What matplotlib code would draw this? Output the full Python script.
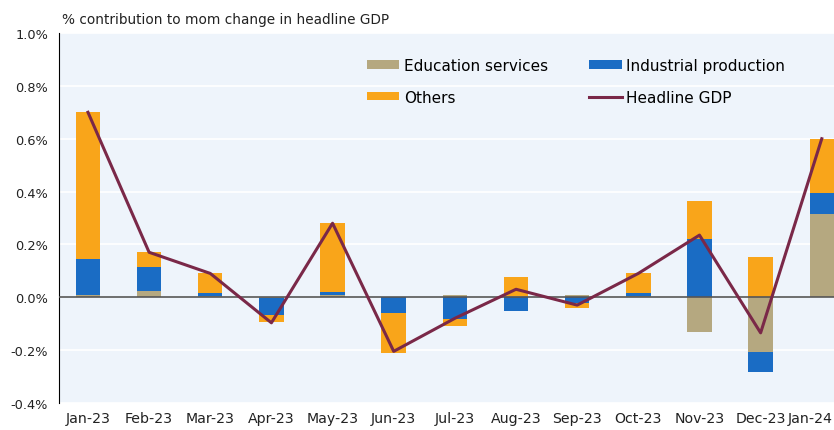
import numpy as np
import matplotlib.pyplot as plt
import matplotlib.transforms as mtransforms
from matplotlib.ticker import FuncFormatter

# data (% points)
months = ["Jan-23", "Feb-23", "Mar-23", "Apr-23", "May-23", "Jun-23", "Jul-23",
          "Aug-23", "Sep-23", "Oct-23", "Nov-23", "Dec-23", "Jan-24"]
education = [0.01, 0.025, 0.003, -0.003, 0.01, 0.0, 0.01, 0.003, 0.01, 0.005, -0.133, -0.208, 0.315]
industrial = [0.135, 0.088, 0.012, -0.064, 0.011, -0.06, -0.082, -0.052, -0.023, 0.01, 0.22, -0.077, 0.079]
others = [0.555, 0.057, 0.078, -0.028, 0.26, -0.15, -0.028, 0.072, -0.017, 0.075, 0.145, 0.152, 0.204]
headline = [0.70, 0.17, 0.09, -0.097, 0.28, -0.205, -0.08, 0.03, -0.03, 0.09, 0.235, -0.135, 0.60]

c_edu = "#B5A880"
c_ind = "#1A6CC4"
c_oth = "#F9A51A"
c_gdp = "#7A2848"

fig = plt.figure(figsize=(8.34, 4.31), dpi=100)
ax = fig.add_axes([0.071, 0.063, 0.929, 0.858])
ax.set_facecolor("#EEF4FB")

x = np.arange(len(months))
w = 0.4

# stack positives and negatives separately
pos_base = np.zeros(len(months))
neg_base = np.zeros(len(months))
for vals, col, lab in [(education, c_edu, "Education services"),
                       (industrial, c_ind, "Industrial production"),
                       (others, c_oth, "Others")]:
    v = np.array(vals)
    base = np.where(v >= 0, pos_base, neg_base)
    ax.bar(x, v, w, bottom=base, color=col, label=lab, zorder=3)
    pos_base += np.where(v >= 0, v, 0)
    neg_base += np.where(v < 0, v, 0)

ax.plot(x, headline, color=c_gdp, lw=2.2, label="Headline GDP", zorder=4)

ax.axhline(0, color="#555555", lw=1.2, zorder=3.5)
ax.set_ylim(-0.4, 1.0)
ax.set_yticks(np.arange(-0.4, 1.01, 0.2))
ax.yaxis.set_major_formatter(FuncFormatter(lambda v, p: f"{v:.1f}%"))
ax.grid(axis="y", color="white", lw=1.2, zorder=1)
ax.set_xlim(-0.47, 12.2)
ax.set_xticks(x)
ax.set_xticklabels(months)
ax.tick_params(length=0, colors="#222222")
ax.tick_params(axis="y", labelsize=9.3, pad=8)
ax.tick_params(axis="x", labelsize=10.2, pad=6)
for s in ["top", "right", "bottom"]:
    ax.spines[s].set_visible(False)
ax.spines["left"].set_color("black")

# keep the last month label inside the figure
last = ax.get_xticklabels()[-1]
last.set_transform(last.get_transform() +
                   mtransforms.ScaledTranslation(-12 / 100, 0, fig.dpi_scale_trans))

fig.text(0.074, 0.945, "% contribution to mom change in headline GDP",
         fontsize=9.8, color="#222222")

h, l = ax.get_legend_handles_labels()
order = [1, 3, 2, 0]
ax.legend([h[i] for i in order], [l[i] for i in order], ncol=2, frameon=False,
          loc="upper left", bbox_to_anchor=(0.38, 0.97), fontsize=11,
          handlelength=2.1, handleheight=0.45, columnspacing=2.7, handletextpad=0.3,
          labelspacing=1.1)

fig.savefig("out.png")
